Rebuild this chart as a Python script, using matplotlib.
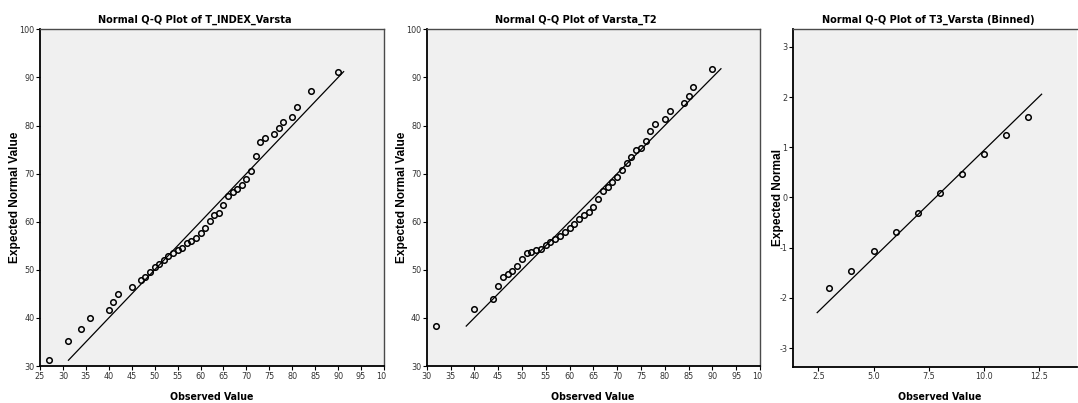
import numpy as np
import matplotlib
matplotlib.use("Agg")
import matplotlib.pyplot as plt
from matplotlib.transforms import Bbox

plt.rcParams["axes.unicode_minus"] = False

# --- data ---
# Panel 1: T_INDEX_Varsta
obs1 = [27, 31, 34, 36, 40, 41, 42, 45, 47, 48, 49, 50, 51, 52, 53, 54, 55, 56,
        57, 58, 59, 60, 61, 62, 63, 64, 65, 66, 67, 68, 69, 70, 71, 72, 73, 74,
        76, 77, 78, 80, 81, 84, 90]
exp1 = [31.2, 35.3, 37.6, 40.0, 41.6, 43.4, 44.9, 46.4, 47.8, 48.5, 49.5, 50.6,
        51.3, 52.0, 52.8, 53.5, 54.1, 54.6, 55.5, 56.0, 56.6, 57.6, 58.7, 60.2,
        61.3, 61.9, 63.4, 65.3, 66.2, 66.9, 67.7, 68.9, 70.5, 73.6, 76.6, 77.5,
        78.3, 79.4, 80.8, 81.8, 83.9, 87.1, 91.2]

# Panel 2: Varsta_T2
obs2 = [32, 40, 44, 45, 46, 47, 48, 49, 50, 51, 52, 53, 54, 55, 56, 57, 58, 59,
        60, 61, 62, 63, 64, 65, 66, 67, 68, 69, 70, 71, 72, 73, 74, 75, 76, 77,
        78, 80, 81, 84, 85, 86, 90]
exp2 = [38.3, 41.9, 43.9, 46.6, 48.4, 49.2, 49.8, 50.7, 52.3, 53.4, 53.8, 54.1,
        54.4, 55.1, 55.8, 56.5, 57.1, 57.8, 58.7, 59.6, 60.5, 61.4, 62.1, 63.1,
        64.7, 66.4, 67.3, 68.2, 69.2, 70.7, 72.1, 73.5, 74.9, 75.4, 76.8, 78.8,
        80.3, 81.3, 83.0, 84.7, 86.1, 88.1, 91.8]

# Panel 3: T3_Varsta (Binned), z-scale
obs3 = [3, 4, 5, 6, 7, 8, 9, 10, 11, 12]
exp3 = [-1.80, -1.46, -1.06, -0.68, -0.31, 0.09, 0.47, 0.86, 1.25, 1.61]
line3_mean = 7.8
line3_sd = 2.333
line3_x = [2.45, 12.6]

titles = ["Normal Q-Q Plot of T_INDEX_Varsta",
          "Normal Q-Q Plot of Varsta_T2",
          "Normal Q-Q Plot of T3_Varsta (Binned)"]
ylabels = ["Expected Normal Value", "Expected Normal Value", "Expected Normal"]

NARROW = dict(family=["DejaVu Sans"], fontstretch="condensed")
BOLD = ["Liberation Sans", "DejaVu Sans"]

W, H = 1078, 403
fig = plt.figure(figsize=(W / 100, H / 100), dpi=100)


def px_axes(l, r, t, b):
    return fig.add_axes([l / W, 1 - b / H, (r - l) / W, (b - t) / H])


def style(ax, clip_right=None):
    ax.set_facecolor("#f0f0f0")
    for s in ("left", "bottom"):
        ax.spines[s].set_color("black")
        ax.spines[s].set_linewidth(1.3)
    for s in ("top", "right"):
        ax.spines[s].set_color("#4a4a4a")
        ax.spines[s].set_linewidth(1.0)
    ax.tick_params(direction="out", length=3, width=0.8, color="black",
                   labelsize=6.5, labelcolor="#333333", pad=1)
    for lab in ax.get_xticklabels() + ax.get_yticklabels():
        lab.set_family(NARROW["family"])
        lab.set_fontstretch("condensed")
    if clip_right is not None:
        # the chart frame cuts the last tick label, as in the original export
        box = Bbox.from_extents(0, 0, clip_right, H)
        for t in ax.xaxis.get_major_ticks():
            t.label1.set_clip_on(True)
            t.label1.set_clip_box(box)


def points(ax, x, y):
    ax.plot(x, y, linestyle="none", marker="o", ms=4.0, mfc="none",
            mec="black", mew=1.1, zorder=3)


# panel geometry in pixels: left, right, top, bottom
ax1 = px_axes(40, 384, 29.3, 366)
ax2 = px_axes(426.7, 760, 29.3, 366)
ax3 = px_axes(793.3, 1077, 29.3, 366.7)

# panel 1
points(ax1, obs1, exp1)
lo, hi = min(exp1), max(exp1)
ax1.plot([lo, hi], [lo, hi], color="black", lw=0.9)
ax1.set_xlim(25, 100)
ax1.set_ylim(30, 100)
ax1.set_xticks(np.arange(25, 101, 5))
ax1.set_yticks(np.arange(30, 101, 10))

# panel 2
points(ax2, obs2, exp2)
lo, hi = min(exp2), max(exp2)
ax2.plot([lo, hi], [lo, hi], color="black", lw=0.9)
ax2.set_xlim(30, 100)
ax2.set_ylim(30, 100)
ax2.set_xticks(np.arange(30, 101, 5))
ax2.set_yticks(np.arange(30, 101, 10))

# panel 3
points(ax3, obs3, exp3)
lx = np.array(line3_x)
ax3.plot(lx, (lx - line3_mean) / line3_sd, color="black", lw=0.9)
ax3.set_xlim(1.37, 14.2)
ax3.set_ylim(-3.37, 3.35)
ax3.set_xticks([2.5, 5.0, 7.5, 10.0, 12.5])
ax3.set_xticklabels(["2.5", "5.0", "7.5", "10.0", "12.5"])
ax3.set_yticks(np.arange(-3, 4, 1))
ax3.spines["right"].set_visible(False)

style(ax1, clip_right=386)
style(ax2, clip_right=762)
style(ax3)

title_x = [195, 576, 928]
ylabel_x = [15, 401.7, 778]
xlabel_x = [212, 593, 940]
for t, yl, tx, yx, xx in zip(titles, ylabels, title_x, ylabel_x, xlabel_x):
    fig.text(tx / W, 1 - 20 / H, t, ha="center", va="center", fontsize=7.8,
             fontweight="bold", **NARROW)
    fig.text(yx / W, 1 - 197.7 / H, yl, ha="center", va="center", rotation=90,
             fontsize=8.6, fontweight="bold", family=BOLD)
    fig.text(xx / W, 1 - 396.7 / H, "Observed Value", ha="center", va="center",
             fontsize=7.6, fontweight="bold", **NARROW)

fig.savefig("out.png", dpi=100)
